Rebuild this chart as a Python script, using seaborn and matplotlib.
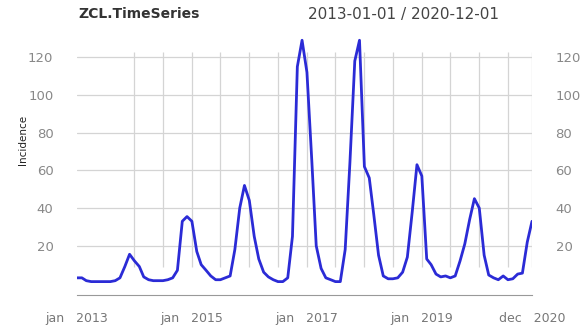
import numpy as np
import pandas as pd
import matplotlib
matplotlib.use("Agg")
import matplotlib.pyplot as plt
import seaborn as sns

# monthly incidence, jan 2013 .. dec 2020
months = pd.date_range("2013-01-01", "2020-12-01", freq="MS")
incidence = [3, 3, 1.5, 1, 1, 1, 1, 1, 1.5, 3, 9, 15.5,
             12, 9, 3.5, 2, 1.5, 1.5, 1.5, 2, 3, 7, 33, 35.5,
             33, 17, 10, 7, 4, 2, 2, 3, 4, 18, 40, 52,
             44, 25, 13, 6, 3.5, 2, 1, 1, 3, 25, 115, 129,
             112, 65, 20, 8, 3, 2, 1, 1, 18, 64, 118, 129,
             62, 56, 37, 15, 4, 2.5, 2.5, 3, 6, 14, 38, 63,
             57, 13, 10, 5, 3.5, 4, 3, 4, 12, 21, 34, 45,
             40, 15, 4.5, 3, 2, 4, 2, 2.5, 5, 5.5, 22, 33]
y_ticks = [20, 40, 60, 80, 100, 120]
x_labels = {"2013-01-01": "jan   2013", "2015-01-01": "jan   2015",
            "2017-01-01": "jan   2017", "2019-01-01": "jan   2019",
            "2020-12-01": "dec   2020"}

df = pd.DataFrame({"date": months, "incidence": incidence})

sns.set_style("white")
plt.rcParams["font.family"] = ["DejaVu Sans"]

fig = plt.figure(figsize=(5.88, 3.29), dpi=100)
ax = fig.add_axes([77/588, 34/329, 455/588, 257/329])

grid_col = "#d4d4d4"
# vertical grid every 6 months (xts style), plus the last month
vgrid = list(pd.date_range("2014-01-01", "2020-07-01", freq="6MS")) + [months[-1]]
ax.vlines(vgrid, 9, 123, color=grid_col, lw=0.9, zorder=0)
for v in y_ticks:
    ax.axhline(v, color=grid_col, lw=0.9, zorder=0)

sns.lineplot(data=df, x="date", y="incidence", ax=ax, color="#2b2bd6", linewidth=2)

ax.set_xlim(months[0], months[-1])
ax.set_ylim(-6.1, 130.2)

# ticks
xt = list(pd.date_range("2013-01-01", "2020-07-01", freq="6MS")) + [months[-1]]
ax.set_xticks(xt)
ax.set_xticklabels([x_labels.get(d.strftime("%Y-%m-%d"), "") for d in xt])
ax.tick_params(axis="x", direction="inout", length=5, width=0.8, color="#999999",
               labelcolor="#777777", labelsize=9, pad=10)
ax.set_yticks(y_ticks)
ax.set_yticklabels([str(v) for v in y_ticks])
ax.tick_params(axis="y", length=0, labelcolor="#888888", labelsize=9.5,
               pad=17, labelright=True, labelleft=True)

for s in ["top", "left", "right"]:
    ax.spines[s].set_visible(False)
ax.spines["bottom"].set_color("#999999")
ax.spines["bottom"].set_linewidth(0.8)
ax.set_xlabel("")
ax.set_ylabel("")

fig.text(23/588, 1 - 140/329, "Incidence", rotation=90, ha="center", va="center",
         fontsize=7.5, color="#222222")
fig.text(78/588, 1 - 14/329, "ZCL.TimeSeries", fontsize=10, fontweight="bold",
         color="#333333", va="center")
fig.text(308/588, 1 - 14/329, "2013-01-01 / 2020-12-01", fontsize=11,
         color="#444444", va="center")

fig.savefig("out.png", dpi=100)
